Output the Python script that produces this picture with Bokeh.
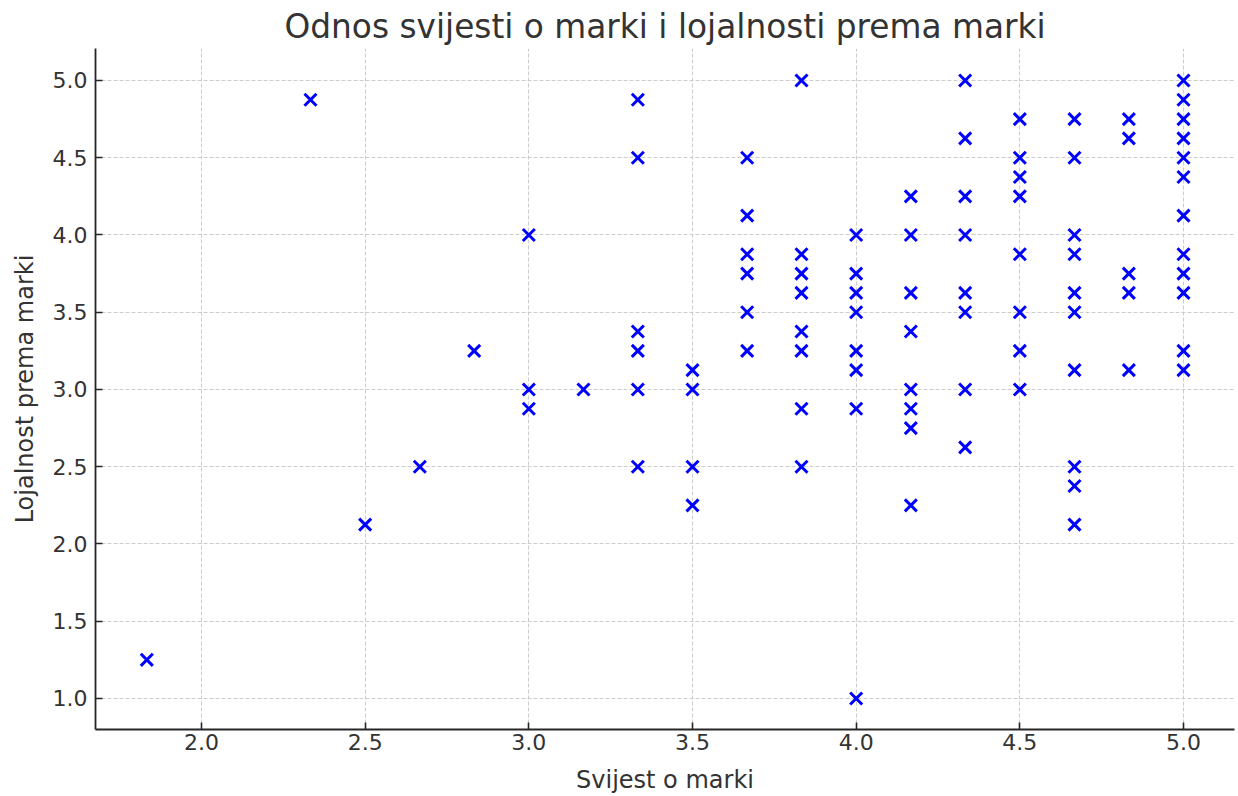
from bokeh.plotting import figure
from bokeh.models import FixedTicker, PrintfTickFormatter, ColumnDataSource
from bokeh.embed import file_html
from bokeh.resources import INLINE

# Svijest o marki (brand awareness)
awareness = [
    1.833,
    2.333,
    2.5,
    2.667,
    2.833,
    3.0, 3.0, 3.0,
    3.167,
    3.333, 3.333, 3.333, 3.333, 3.333, 3.333,
    3.5, 3.5, 3.5, 3.5,
    3.667, 3.667, 3.667, 3.667, 3.667, 3.667,
    3.833, 3.833, 3.833, 3.833, 3.833, 3.833, 3.833, 3.833,
    4.0, 4.0, 4.0, 4.0, 4.0, 4.0, 4.0, 4.0,
    4.167, 4.167, 4.167, 4.167, 4.167, 4.167, 4.167, 4.167,
    4.333, 4.333, 4.333, 4.333, 4.333, 4.333, 4.333, 4.333,
    4.5, 4.5, 4.5, 4.5, 4.5, 4.5, 4.5, 4.5,
    4.667, 4.667, 4.667, 4.667, 4.667, 4.667, 4.667, 4.667, 4.667, 4.667,
    4.833, 4.833, 4.833, 4.833, 4.833,
    5.0, 5.0, 5.0, 5.0, 5.0, 5.0, 5.0, 5.0, 5.0, 5.0, 5.0, 5.0,
]
# Lojalnost prema marki (brand loyalty)
loyalty = [
    1.25,
    4.875,
    2.125,
    2.5,
    3.25,
    4.0, 3.0, 2.875,
    3.0,
    4.875, 4.5, 3.375, 3.25, 3.0, 2.5,
    3.125, 3.0, 2.5, 2.25,
    4.5, 4.125, 3.875, 3.75, 3.5, 3.25,
    5.0, 3.875, 3.75, 3.625, 3.375, 3.25, 2.875, 2.5,
    4.0, 3.75, 3.625, 3.5, 3.25, 3.125, 2.875, 1.0,
    4.25, 4.0, 3.625, 3.375, 3.0, 2.875, 2.75, 2.25,
    5.0, 4.625, 4.25, 4.0, 3.625, 3.5, 3.0, 2.625,
    4.75, 4.5, 4.375, 4.25, 3.875, 3.5, 3.25, 3.0,
    4.75, 4.5, 4.0, 3.875, 3.625, 3.5, 3.125, 2.5, 2.375, 2.125,
    4.75, 4.625, 3.75, 3.625, 3.125,
    5.0, 4.875, 4.75, 4.625, 4.5, 4.375, 4.125, 3.875, 3.75, 3.625, 3.25, 3.125,
]
x_ticks = [2.0, 2.5, 3.0, 3.5, 4.0, 4.5, 5.0]
y_ticks = [1.0, 1.5, 2.0, 2.5, 3.0, 3.5, 4.0, 4.5, 5.0]

title_text = "Odnos svijesti o marki i lojalnosti prema marki"
x_label = "Svijest o marki"
y_label = "Lojalnost prema marki"

FONT = "DejaVu Sans"
TXT = "#333333"

p = figure(width=1238, height=796, output_backend="svg", toolbar_location=None,
           x_range=(1.6762, 5.1558), y_range=(0.799, 5.207),
           title=title_text,
           min_border_left=95, min_border_right=4, min_border_top=48, min_border_bottom=67)

src = ColumnDataSource(dict(x=awareness, y=loyalty))
p.scatter("x", "y", source=src, marker="x", size=17, line_color="#0000ff", line_width=3)

p.title.text_font = FONT
p.title.text_font_size = "32.8px"
p.title.text_font_style = "normal"
p.title.text_color = TXT
p.title.align = "center"
p.title.standoff = 5

p.outline_line_color = None
p.background_fill_color = "white"
p.border_fill_color = "white"

for ax, ticks, lab in ((p.xaxis[0], x_ticks, x_label), (p.yaxis[0], y_ticks, y_label)):
    ax.ticker = FixedTicker(ticks=ticks)
    ax.formatter = PrintfTickFormatter(format="%.1f")
    ax.minor_tick_line_color = None
    ax.major_tick_in = 7
    ax.major_tick_out = 0
    ax.major_tick_line_width = 1.6
    ax.major_tick_line_color = "#262626"
    ax.axis_line_width = 1.8
    ax.axis_line_color = "#262626"
    ax.major_label_text_font = FONT
    ax.major_label_text_font_size = "22px"
    ax.major_label_text_color = TXT
    ax.axis_label = lab
    ax.axis_label_text_font = FONT
    ax.axis_label_text_font_size = "24px"
    ax.axis_label_text_font_style = "normal"
    ax.axis_label_text_color = TXT

p.xaxis.major_label_standoff = 4
p.xaxis.axis_label_standoff = 13
p.yaxis.major_label_standoff = 8
p.yaxis.axis_label_standoff = 11

for g in (p.xgrid[0], p.ygrid[0]):
    g.grid_line_color = "#cccccc"
    g.grid_line_dash = "4 2"
    g.grid_line_width = 1
p.xgrid.ticker = FixedTicker(ticks=x_ticks)
p.ygrid.ticker = FixedTicker(ticks=y_ticks)

open("out.html", "w").write(file_html(p, INLINE))
